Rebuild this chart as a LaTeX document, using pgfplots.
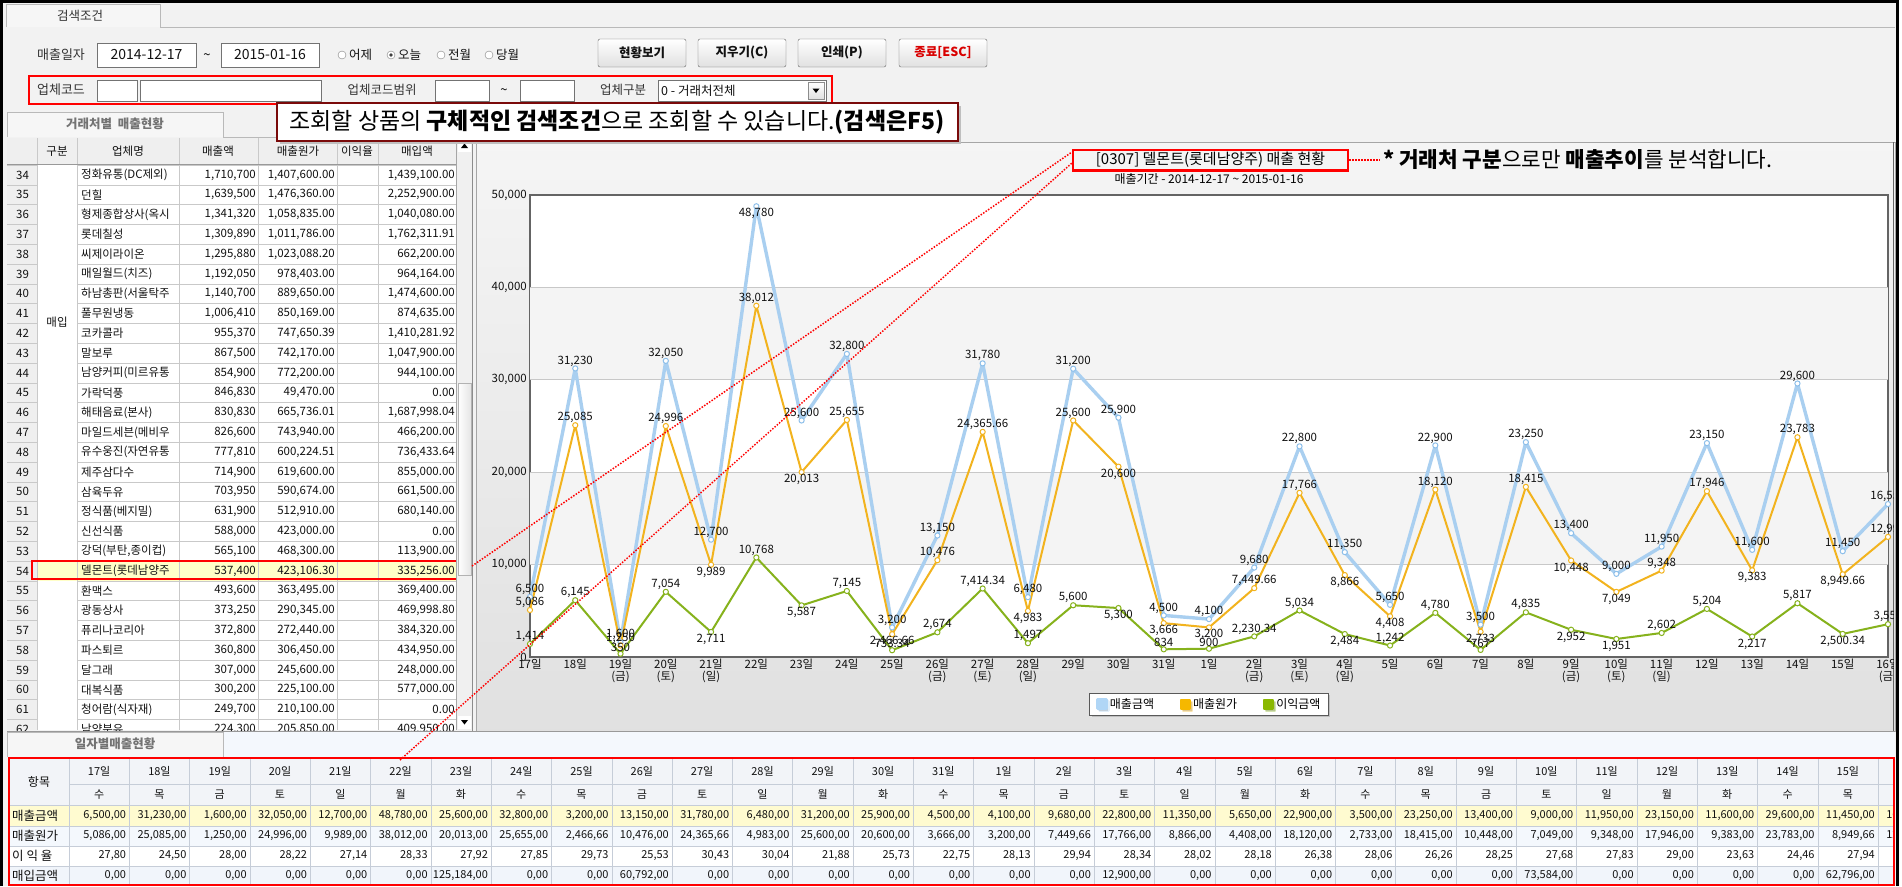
\documentclass[border=0pt]{standalone}
\usepackage{pgfplots}
\pgfplotsset{compat=1.18}
\usepackage{pgfplotstable}
\usepackage{fontspec}
\setmainfont{Noto Sans CJK KR}
\usetikzlibrary{shadows}
\newcommand{\fs}[1]{\fontsize{#1}{#1}\selectfont}
\definecolor{win}{HTML}{F2F2F2}
\definecolor{tabB}{HTML}{F6F6F6}
\definecolor{gridc}{HTML}{C8C8C8}
\definecolor{band}{HTML}{F4F4F4}
\definecolor{hdr}{HTML}{EFEFEF}
\definecolor{cellline}{HTML}{C9C9C9}
\definecolor{sales}{HTML}{A9CFF0}
\definecolor{salesD}{HTML}{8DBFEA}
\definecolor{cost}{HTML}{F2B31E}
\definecolor{profit}{HTML}{86B21C}
\definecolor{lgS}{HTML}{B0D6F6}
\definecolor{lgC}{HTML}{F6B800}
\definecolor{lgP}{HTML}{8AB800}
\definecolor{frame}{HTML}{646464}
\definecolor{darkred}{HTML}{7A0A0A}
\definecolor{yel}{HTML}{FFFBD0}
\definecolor{hiyel}{HTML}{FFFFC8}
\definecolor{lb}{HTML}{F4F8FD}
\definecolor{lb2}{HTML}{F1F5FB}
\definecolor{thdr}{HTML}{F2F4F8}
\definecolor{tline}{HTML}{C6CDD8}
\definecolor{txt}{HTML}{111111}
\definecolor{lbl}{HTML}{333333}

% series: x = day index (0 = Dec 17 ... 30 = Jan 16)
\pgfplotstableread{
x y
0 6500
1 31230
2 1600
3 32050
4 12700
5 48780
6 25600
7 32800
8 3200
9 13150
10 31780
11 6480
12 31200
13 25900
14 4500
15 4100
16 9680
17 22800
18 11350
19 5650
20 22900
21 3500
22 23250
23 13400
24 9000
25 11950
26 23150
27 11600
28 29600
29 11450
30 16550
}\salesT

\pgfplotstableread{
x y
0 5086
1 25085
2 1250
3 24996
4 9989
5 38012
6 20013
7 25655
8 2466.66
9 10476
10 24365.66
11 4983
12 25600
13 20600
14 3666
15 3200
16 7449.66
17 17766
18 8866
19 4408
20 18120
21 2733
22 18415
23 10448
24 7049
25 9348
26 17946
27 9383
28 23783
29 8949.66
30 12999
}\costT

\pgfplotstableread{
x y
0 1414
1 6145
2 350
3 7054
4 2711
5 10768
6 5587
7 7145
8 733.34
9 2674
10 7414.34
11 1497
12 5600
13 5300
14 834
15 900
16 2230.34
17 5034
18 2484
19 1242
20 4780
21 767
22 4835
23 2952
24 1951
25 2602
26 5204
27 2217
28 5817
29 2500.34
30 3551
}\profitT

% value labels that sit below their point
\pgfplotstableread{
x y
5 48780
}\salesB
\pgfplotstableread{
x y
4 9989
6 20013
8 2466.66
11 4983
13 20600
14 3666
15 3200
18 8866
19 4408
21 2733
23 10448
24 7049
27 9383
29 8949.66
}\costB
\pgfplotstableread{
x y
4 2711
6 5587
13 5300
18 2484
23 2952
24 1951
27 2217
29 2500.34
}\profitB
% value labels that sit above their point
\pgfplotstableread{
x y
0 6500
1 31230
2 1600
3 32050
4 12700
6 25600
7 32800
8 3200
9 13150
10 31780
11 6480
12 31200
13 25900
14 4500
15 4100
16 9680
17 22800
18 11350
19 5650
20 22900
21 3500
22 23250
23 13400
24 9000
25 11950
26 23150
27 11600
28 29600
29 11450
30 16550
}\salesA
\pgfplotstableread{
x y
0 5086
1 25085
2 1250
3 24996
5 38012
7 25655
9 10476
10 24365.66
12 25600
16 7449.66
17 17766
20 18120
22 18415
25 9348
26 17946
28 23783
30 12999
}\costA
\pgfplotstableread{
x y
0 1414
1 6145
2 350
3 7054
5 10768
7 7145
8 733.34
9 2674
10 7414.34
11 1497
12 5600
14 834
15 900
16 2230.34
17 5034
19 1242
20 4780
21 767
22 4835
25 2602
26 5204
28 5817
30 3551
}\profitA

\newcommand{\LRow}[5]{%
  \pgfmathsetmacro{\ry}{175+(#1-34)*19.8}%
  \node[anchor=west] at (16,\ry) {#1};
  \node[anchor=west] at (81,\ry) {#2};
  \node[anchor=east] at (256,\ry) {#3};
  \node[anchor=east] at (335,\ry) {#4};
  \node[anchor=east] at (455,\ry) {#5};
}

\pgfplotsset{
  lblA/.style={forget plot, draw=none, mark=none,
    nodes near coords={\pgfmathprintnumber[fixed,precision=2,1000 sep={,},assume math mode=true]{\pgfplotspointmeta}},
    every node near coord/.append style={anchor=south, font=\fs{11.5}, inner sep=2pt, text=txt}},
  lblB/.style={forget plot, draw=none, mark=none,
    nodes near coords={\pgfmathprintnumber[fixed,precision=2,1000 sep={,},assume math mode=true]{\pgfplotspointmeta}},
    every node near coord/.append style={anchor=north, font=\fs{11.5}, inner sep=2pt, text=txt}},
}

\begin{document}
\begin{tikzpicture}[x=1pt,y=1pt]
\begin{scope}[y=-1pt]
% window background
\fill[win] (0,0) rectangle (1902,886);
\fill[white] (1899,0) rectangle (1902,886);
% ---------- search area
\fill[tabB] (6,4) rectangle (160,27);
\draw[gray!55] (6,27) -- (6,4) -- (160,4) -- (160,27) -- (1895,27);
\node[font=\fs{12.5}, text=lbl] at (80,16) {검색조건};
\node[font=\fs{13}, text=lbl] at (61,55) {매출일자};
\draw[fill=white, draw=black!55] (97,43) rectangle (196,67);
\node[font=\fs{14}, text=txt] at (146.5,55) {2014-12-17};
\node[font=\fs{13}] at (207,57) {\textasciitilde};
\draw[fill=white, draw=black!55] (221,43) rectangle (319,67);
\node[font=\fs{14}, text=txt] at (270,55) {2015-01-16};
\foreach \cx/\lab in {342/어제,391/오늘,441/전월,489/당월}{
  \draw[fill=white, draw=black!50] (\cx,55) circle (4pt);
  \node[anchor=west, font=\fs{12.5}, text=txt, inner sep=0pt] at (\cx+7,55) {\lab};
}
\fill[black!75] (391,55) circle (1.8pt);
\foreach \bx/\bl/\bc in {598/현황보기/txt,698/지우기(C)/txt,798/인쇄(P)/txt,899/종료[ESC]/red!85!black}{
  \shade[top color=white, bottom color=black!12, draw=black!60, rounded corners=2pt] (\bx,39) rectangle (\bx+88,67);
  \node[font=\bfseries\fs{12.5}, text=\bc] at (\bx+44,53) {\bl};
}
% row 2
\draw[red, line width=2pt] (29,76) rectangle (832,104);
\node[font=\fs{13}, text=lbl] at (61,90) {업체코드};
\draw[fill=white, draw=black!55] (97,80) rectangle (137,101);
\draw[fill=white, draw=black!55] (140,80) rectangle (321,101);
\node[font=\fs{12.5}, text=lbl] at (382,90) {업체코드범위};
\draw[fill=white, draw=black!55] (435,80) rectangle (489,101);
\node[font=\fs{13}] at (504,92) {\textasciitilde};
\draw[fill=white, draw=black!55] (520,80) rectangle (574,101);
\node[font=\fs{12.5}, text=lbl] at (623,90) {업체구분};
\draw[fill=white, draw=black!55] (658,80) rectangle (826,101);
\node[anchor=west, font=\fs{12.5}, text=txt, inner sep=0pt] at (661,90.5) {0 - 거래처전체};
\shade[top color=white, bottom color=black!12, draw=black!45] (808,82) rectangle (824,99);
\fill[black] (812.5,88.5) -- (819.5,88.5) -- (816,93) -- cycle;
% ---------- left panel
\fill[tabB] (7,112) rectangle (223,137);
\draw[gray!55] (7,137) -- (7,112) -- (223,112) -- (223,137) -- (473,137);
\node[font=\bfseries\fs{12.5}, text=black!55] at (115,124) {거래처별\ \ 매출현황};
\fill[white] (7,138) rectangle (456,730);
\fill[hdr] (7,138) rectangle (456,164);
\fill[hdr] (7,164) rectangle (37,730);
\fill[hiyel] (37,561) rectangle (456,580.8);
\begin{scope}
\clip (7,138) rectangle (456,730);
\foreach \k in {0,...,29}{
  \draw[cellline] (7,165+19.8*\k) -- (37,165+19.8*\k);
  \draw[cellline] (77,165+19.8*\k) -- (456,165+19.8*\k);
}
\foreach \vx in {37,77,179,258,337,378}{\draw[cellline] (\vx,138) -- (\vx,730);}
\draw[black!40] (7,164.5) -- (456,164.5);
\begin{scope}[every node/.style={inner sep=0pt, font=\fs{11.5}, text=txt}]
\LRow{34}{정화유통(DC제외)}{1,710,700}{1,407,600.00}{1,439,100.00}
\LRow{35}{던힐}{1,639,500}{1,476,360.00}{2,252,900.00}
\LRow{36}{형제종합상사(옥시}{1,341,320}{1,058,835.00}{1,040,080.00}
\LRow{37}{롯데칠성}{1,309,890}{1,011,786.00}{1,762,311.91}
\LRow{38}{씨제이라이온}{1,295,880}{1,023,088.20}{662,200.00}
\LRow{39}{매일월드(치즈)}{1,192,050}{978,403.00}{964,164.00}
\LRow{40}{하남총판(서울탁주}{1,140,700}{889,650.00}{1,474,600.00}
\LRow{41}{풀무원냉동}{1,006,410}{850,169.00}{874,635.00}
\LRow{42}{코카콜라}{955,370}{747,650.39}{1,410,281.92}
\LRow{43}{말보루}{867,500}{742,170.00}{1,047,900.00}
\LRow{44}{남양커피(미르유통}{854,900}{772,200.00}{944,100.00}
\LRow{45}{가락덕풍}{846,830}{49,470.00}{0.00}
\LRow{46}{해태음료(본사)}{830,830}{665,736.01}{1,687,998.04}
\LRow{47}{마일드세븐(메비우}{826,600}{743,940.00}{466,200.00}
\LRow{48}{유수웅진(자연유통}{777,810}{600,224.51}{736,433.64}
\LRow{49}{제주삼다수}{714,900}{619,600.00}{855,000.00}
\LRow{50}{삼육두유}{703,950}{590,674.00}{661,500.00}
\LRow{51}{정식품(베지밀)}{631,900}{512,910.00}{680,140.00}
\LRow{52}{신선식품}{588,000}{423,000.00}{0.00}
\LRow{53}{강덕(부탄,종이컵)}{565,100}{468,300.00}{113,900.00}
\LRow{54}{델몬트(롯데남양주}{537,400}{423,106.30}{335,256.00}
\LRow{55}{환맥스}{493,600}{363,495.00}{369,400.00}
\LRow{56}{광동상사}{373,250}{290,345.00}{469,998.80}
\LRow{57}{퓨리나코리아}{372,800}{272,440.00}{384,320.00}
\LRow{58}{파스퇴르}{360,800}{306,450.00}{434,950.00}
\LRow{59}{달그래}{307,000}{245,600.00}{248,000.00}
\LRow{60}{대복식품}{300,200}{225,100.00}{577,000.00}
\LRow{61}{청어람(식자재)}{249,700}{210,100.00}{0.00}
\LRow{62}{남양분유}{224,300}{205,850.00}{409,950.00}
\node at (57,151) {구분};
\node at (128,151) {업체명};
\node at (218,151) {매출액};
\node at (298,151) {매출원가};
\node at (357,151) {이익율};
\node at (417,151) {매입액};
\node at (57,322) {매입};
\end{scope}
\end{scope}
\draw[red, line width=2.5pt] (32,561) rectangle (471,579);
% scrollbar
\fill[black!6] (457,138) rectangle (472,730);
\draw[black!35] (456.5,138) -- (456.5,730);
\shade[left color=white, right color=black!10, draw=black!30] (458,383) rectangle (471,575);
\fill[white] (458,139) rectangle (471,152);
\fill[black] (461,148) -- (468,148) -- (464.5,143.5) -- cycle;
\fill[white] (458,716) rectangle (471,729);
\fill[black] (461,720) -- (468,720) -- (464.5,724.5) -- cycle;
\draw[black!45] (472.5,137) -- (472.5,731);
% ---------- chart panel
\shade[top color=black!4, bottom color=black!12] (476,142) rectangle (1895,731);
\draw[black!35] (476,142) rectangle (1895,731);
\draw[black!60, line width=1pt] (1893.5,142) -- (1893.5,731);
\node[font=\fs{15}, text=black] at (1210.5,160) {[0307] 델몬트(롯데남양주) 매출 현황};
\draw[red, line width=2.5pt] (1073,150) rectangle (1348,170.5);
\node[font=\fs{12}, text=black] at (1209,178.5) {매출기간 - 2014-12-17 \textasciitilde{} 2015-01-16};
\draw[red, line width=1.5pt, dash pattern=on 1.5pt off 1.5pt] (1349,160) -- (1380,160);
\node[anchor=west, font=\fs{21.3}, text=black, inner sep=0pt] at (1383,160) {\textbf{*} \textbf{거래처 구분}으로만 \textbf{매출추이}를 분석합니다.};
% ---------- bottom area
\fill[lb] (223,732) rectangle (1895,757);
\fill[tabB] (7,732) rectangle (223,757);
\draw[gray!55] (7,757) -- (7,732) -- (223,732) -- (223,757);
\draw[black!40] (7,731.5) -- (1895,731.5);
\node[font=\bfseries\fs{12.5}, text=black!55] at (115,744) {일자별매출현황};
\begin{scope}
\clip (9,758) rectangle (1894,885);
\fill[thdr] (9,758) rectangle (1894,805);
\fill[yel] (9,805) rectangle (1894,826);
\fill[lb] (9,826) rectangle (1894,846);
\fill[white] (9,846) rectangle (1894,866);
\fill[lb2] (9,866) rectangle (1894,886);
\foreach \i in {0,...,31}{\draw[tline] (69+60.3*\i,758) -- (69+60.3*\i,886);}
\draw[tline] (69,784) -- (1894,784);
\foreach \hy in {805,826,846,866}{\draw[tline] (9,\hy) -- (1894,\hy);}
\begin{scope}[every node/.style={inner sep=0pt, font=\fs{11}, text=txt}]
\node[font=\fs{12}] at (39,782) {항목};
\node[anchor=west, font=\fs{12.5}] at (12,815.5) {매출금액};
\node[anchor=west, font=\fs{12.5}] at (12,836) {매출원가};
\node[anchor=west, font=\fs{12.5}] at (12,856) {이\ 익\ 율};
\node[anchor=west, font=\fs{12.5}] at (12,876) {매입금액};
\foreach \d [count=\i from 0] in {17일,18일,19일,20일,21일,22일,23일,24일,25일,26일,27일,28일,29일,30일,31일,1일,2일,3일,4일,5일,6일,7일,8일,9일,10일,11일,12일,13일,14일,15일,16일}{
  \node at ({69+60.3*\i+30.15},771) {\d};
}
\foreach \d [count=\i from 0] in {수,목,금,토,일,월,화,수,목,금,토,일,월,화,수,목,금,토,일,월,화,수,목,금,토,일,월,화,수,목,금}{
  \node at ({69+60.3*\i+30.15},794.5) {\d};
}
\foreach \v [count=\i from 1] in {{6,500,00},{31,230,00},{1,600,00},{32,050,00},{12,700,00},{48,780,00},{25,600,00},{32,800,00},{3,200,00},{13,150,00},{31,780,00},{6,480,00},{31,200,00},{25,900,00},{4,500,00},{4,100,00},{9,680,00},{22,800,00},{11,350,00},{5,650,00},{22,900,00},{3,500,00},{23,250,00},{13,400,00},{9,000,00},{11,950,00},{23,150,00},{11,600,00},{29,600,00},{11,450,00},{16,550,00}}{
  \node[anchor=east] at ({69+60.3*\i-3},815.5) {\v};
}
\foreach \v [count=\i from 1] in {{5,086,00},{25,085,00},{1,250,00},{24,996,00},{9,989,00},{38,012,00},{20,013,00},{25,655,00},{2,466,66},{10,476,00},{24,365,66},{4,983,00},{25,600,00},{20,600,00},{3,666,00},{3,200,00},{7,449,66},{17,766,00},{8,866,00},{4,408,00},{18,120,00},{2,733,00},{18,415,00},{10,448,00},{7,049,00},{9,348,00},{17,946,00},{9,383,00},{23,783,00},{8,949,66},{12,999,00}}{
  \node[anchor=east] at ({69+60.3*\i-3},836) {\v};
}
\foreach \v [count=\i from 1] in {{27,80},{24,50},{28,00},{28,22},{27,14},{28,33},{27,92},{27,85},{29,73},{25,53},{30,43},{30,04},{21,88},{25,73},{22,75},{28,13},{29,94},{28,34},{28,02},{28,18},{26,38},{28,06},{26,26},{28,25},{27,68},{27,83},{29,00},{23,63},{24,46},{27,94},{27,32}}{
  \node[anchor=east] at ({69+60.3*\i-3},856) {\v};
}
\foreach \v [count=\i from 1] in {{0,00},{0,00},{0,00},{0,00},{0,00},{0,00},{125,184,00},{0,00},{0,00},{60,792,00},{0,00},{0,00},{0,00},{0,00},{0,00},{0,00},{0,00},{12,900,00},{0,00},{0,00},{0,00},{0,00},{0,00},{0,00},{73,584,00},{0,00},{0,00},{0,00},{0,00},{62,796,00},{0,00}}{
  \node[anchor=east] at ({69+60.3*\i-3},876) {\v};
}
\end{scope}
\end{scope}
\draw[red, line width=2.5pt] (9,758) rectangle (1894,885);
% ---------- popup callout
\fill[black!25] (280,106) rectangle (961,144);
\draw[fill=white, draw=darkred, line width=2.5pt] (277,103) rectangle (958,141);
\node[font=\fs{23}, text=black] at (617,122) {조회할 상품의 \textbf{구체적인 검색조건}으로 조회할 수 있습니다.\textbf{(검색은F5)}};
% outer frame
\draw[black, line width=3pt] (1.5,886) -- (1.5,1.5) -- (1897.5,1.5) -- (1897.5,886);
\end{scope}

% ---------- chart
\begin{scope}
\clip (476pt,-142pt) rectangle (1893pt,-731pt);
\begin{axis}[
  at={(530pt,-657pt)}, anchor=south west,
  scale only axis, width=1358pt, height=462pt,
  xmin=0, xmax=30, ymin=0, ymax=50000,
  axis line style={draw=frame, line width=1.6pt},
  axis background/.style={fill=white},
  ytick={0,10000,...,50000},
  xtick={0,...,30},
  xticklabels={17일,18일,{19일\\(금)},{20일\\(토)},{21일\\(일)},22일,23일,24일,25일,{26일\\(금)},{27일\\(토)},{28일\\(일)},29일,30일,31일,1일,{2일\\(금)},{3일\\(토)},{4일\\(일)},5일,6일,7일,8일,{9일\\(금)},{10일\\(토)},{11일\\(일)},12일,13일,14일,15일,{16일\\(금)}},
  xticklabel style={align=center, font=\fs{11.5}, text=txt, inner sep=2pt},
  yticklabel={\pgfmathprintnumber[fixed,precision=0,1000 sep={,},assume math mode=true]{\tick}},
  yticklabel style={font=\fs{11.5}, text=txt, inner sep=3pt},
  major tick length=0pt,
  scaled y ticks=false,
  legend style={at={(0.5,-0.102)}, anchor=center, legend columns=3, draw=black!65, fill=white, font=\fs{12}, drop shadow={shadow xshift=2pt, shadow yshift=-2pt, opacity=0.35}, /tikz/every even column/.append style={column sep=24pt}, inner xsep=6pt, inner ysep=3pt},
  legend cell align=left,
]
\fill[band] (axis cs:0,10000) rectangle (axis cs:30,20000);
\fill[band] (axis cs:0,30000) rectangle (axis cs:30,40000);
\draw[gridc, line width=0.8pt] (axis cs:0,10000) -- (axis cs:30,10000);
\draw[gridc, line width=0.8pt] (axis cs:0,20000) -- (axis cs:30,20000);
\draw[gridc, line width=0.8pt] (axis cs:0,30000) -- (axis cs:30,30000);
\draw[gridc, line width=0.8pt] (axis cs:0,40000) -- (axis cs:30,40000);
\addplot[sales, line width=3.4pt, line join=round, mark=*, mark size=2.6pt, mark options={solid, line width=1pt, fill=white, draw=salesD},
  legend image code/.code={\fill[lgS] (0pt,-4.5pt) rectangle (9pt,4.5pt);}] table[x=x,y=y] {\salesT};
\addlegendentry{매출금액}
\addplot[cost, line width=2pt, line join=round, mark=*, mark size=2.6pt, mark options={solid, line width=1pt, fill=white, draw=cost},
  legend image code/.code={\fill[lgC] (0pt,-4.5pt) rectangle (9pt,4.5pt);}] table[x=x,y=y] {\costT};
\addlegendentry{매출원가}
\addplot[profit, line width=2pt, line join=round, mark=*, mark size=2.6pt, mark options={solid, line width=1pt, fill=white, draw=profit},
  legend image code/.code={\fill[lgP] (0pt,-4.5pt) rectangle (9pt,4.5pt);}] table[x=x,y=y] {\profitT};
\addlegendentry{이익금액}
\addplot[lblA] table[x=x,y=y] {\salesA};
\addplot[lblB] table[x=x,y=y] {\salesB};
\addplot[lblA] table[x=x,y=y] {\costA};
\addplot[lblB] table[x=x,y=y] {\costB};
\addplot[lblA] table[x=x,y=y] {\profitA};
\addplot[lblB] table[x=x,y=y] {\profitB};
\end{axis}
\end{scope}

% red dotted connectors
\draw[red, line width=1.5pt, dash pattern=on 1.5pt off 1.5pt] (472pt,-566pt) -- (1072pt,-152pt);
\draw[red, line width=1.5pt, dash pattern=on 1.5pt off 1.5pt] (400pt,-760pt) -- (1072pt,-163pt);

\pgfresetboundingbox
\useasboundingbox (0pt,0pt) rectangle (1902pt,-886pt);
\end{tikzpicture}
\end{document}
